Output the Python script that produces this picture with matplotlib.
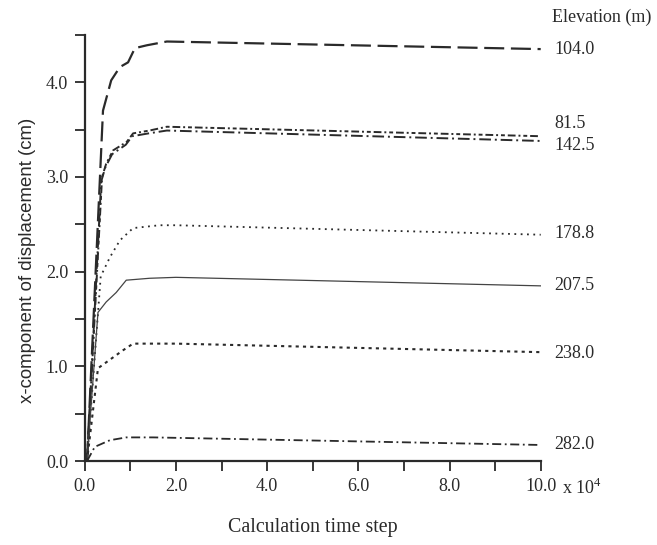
import matplotlib
matplotlib.use("Agg")
import matplotlib.pyplot as plt

plt.rcParams['font.family'] = ['Liberation Serif', 'DejaVu Serif']
plt.rcParams['mathtext.fontset'] = 'custom'
plt.rcParams['mathtext.rm'] = 'Liberation Serif'

ink = '#2a2a2a'

# time step (x 10^4) and x-displacement (cm)
x_104 = [0.05, 0.40, 0.58, 0.77, 0.95, 1.10, 1.36, 1.8, 10.0]
y_104 = [0.0, 3.70, 4.02, 4.16, 4.21, 4.36, 4.39, 4.43, 4.35]
x_815 = [0.05, 0.38, 0.47, 0.62, 0.92, 1.06, 1.42, 1.8, 10.0]
y_815 = [0.0, 3.00, 3.14, 3.28, 3.37, 3.46, 3.49, 3.53, 3.43]
x_1425 = [0.05, 0.36, 0.45, 0.60, 0.90, 1.04, 1.40, 1.8, 10.0]
y_1425 = [0.0, 2.95, 3.10, 3.24, 3.34, 3.43, 3.46, 3.49, 3.38]
x_1788 = [0.05, 0.35, 0.55, 0.77, 1.06, 1.64, 2.0, 10.0]
y_1788 = [0.0, 1.95, 2.15, 2.33, 2.46, 2.49, 2.49, 2.39]
x_2075 = [0.05, 0.29, 0.47, 0.69, 0.91, 1.42, 2.0, 10.0]
y_2075 = [0.0, 1.57, 1.68, 1.78, 1.91, 1.93, 1.94, 1.85]
x_238 = [0.05, 0.29, 0.55, 0.84, 1.06, 2.0, 10.0]
y_238 = [0.0, 0.98, 1.07, 1.17, 1.24, 1.24, 1.15]
x_282 = [0.05, 0.22, 0.55, 0.91, 1.5, 10.0]
y_282 = [0.0, 0.15, 0.22, 0.25, 0.25, 0.17]

elev_labels = ['104.0', '81.5', '142.5', '178.8', '207.5', '238.0', '282.0']
label_y = [4.35, 3.56, 3.33, 2.40, 1.85, 1.14, 0.18]

fig = plt.figure(figsize=(6.57, 5.45), dpi=100)
ax = fig.add_axes([0.129, 0.154, 0.694, 0.782])

ax.plot(x_104, y_104, color=ink, lw=1.6, dashes=(9, 3))
ax.plot(x_815, y_815, color=ink, lw=1.4, dashes=(4, 1.5, 1, 1.5, 2, 1.5))
ax.plot(x_1425, y_1425, color=ink, lw=1.4, dashes=(6, 2, 1, 2))
ax.plot(x_1788, y_1788, color=ink, lw=1.3, dashes=(1, 2.5))
ax.plot(x_2075, y_2075, color='#444444', lw=0.9)
ax.plot(x_238, y_238, color=ink, lw=1.5, dashes=(1.5, 2))
ax.plot(x_282, y_282, color=ink, lw=1.3, dashes=(5, 2, 1, 2))

for lab, yy in zip(elev_labels, label_y):
    ax.text(10.3, yy, lab, fontsize=13, color=ink, va='center', ha='left')
ax.text(10.25, 4.68, 'Elevation (m)', fontsize=13, color=ink, va='center', ha='left')

ax.set_xlim(0, 10)
ax.set_ylim(0, 4.5)
ax.set_xticks(range(0, 11))
ax.set_xticklabels(['0.0', '', '2.0', '', '4.0', '', '6.0', '', '8.0', '', '10.0'])
ax.set_yticks([0, 0.5, 1, 1.5, 2, 2.5, 3, 3.5, 4, 4.5])
ax.set_yticklabels(['0.0', '', '1.0', '', '2.0', '', '3.0', '', '4.0', ''])
ax.annotate('x 10$^4$', xy=(10, 0), xycoords='data', xytext=(15, -12),
            textcoords='offset points', ha='left', va='top', fontsize=13, color=ink,
            annotation_clip=False)

ax.tick_params(direction='out', length=7, width=1.3, colors=ink, labelsize=13, pad=5)
for side in ['top', 'right']:
    ax.spines[side].set_visible(False)
for side in ['left', 'bottom']:
    ax.spines[side].set_linewidth(1.6)
    ax.spines[side].set_color(ink)

ax.set_xlabel('Calculation time step', fontsize=14.3, color=ink, va='center')
ax.xaxis.set_label_coords(0.5, -0.157)
ax.set_ylabel('x-component of displacement (cm)', fontsize=13.4, color=ink,
              family='Liberation Sans', va='center')
ax.yaxis.set_label_coords(-0.125, 0.472)

fig.savefig('out.png', dpi=100)
